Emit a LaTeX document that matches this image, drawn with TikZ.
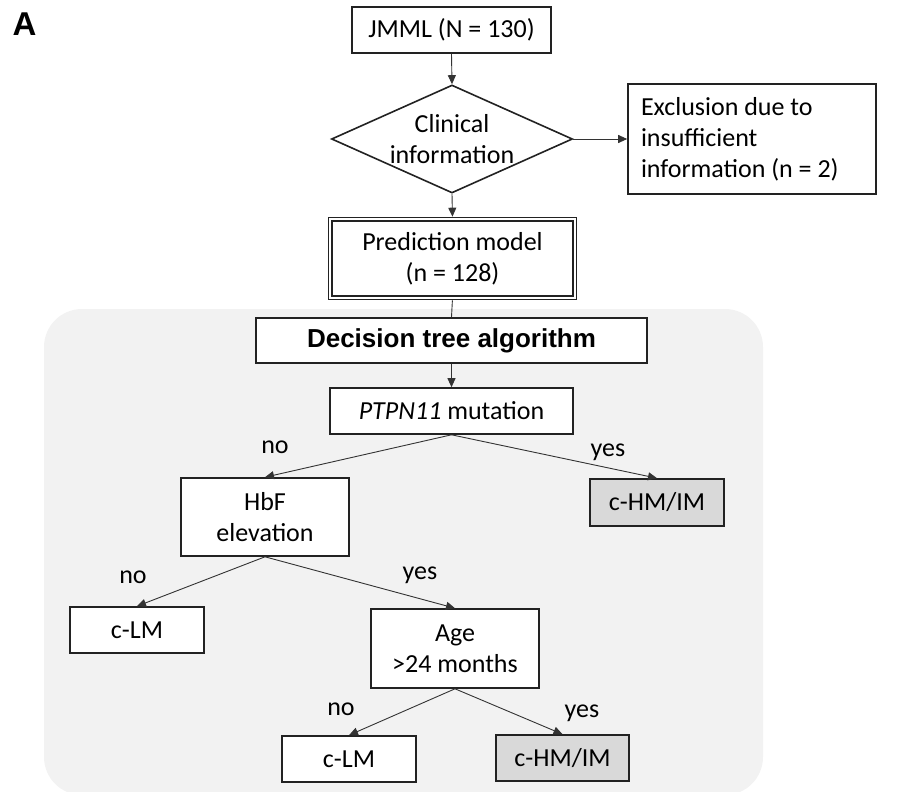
\documentclass[tikz,border=0pt]{standalone}
\usepackage{fontspec}
\setmainfont{Carlito}
\newfontfamily\arialfont{Liberation Sans}
\usetikzlibrary{shapes.geometric,arrows.meta}
\definecolor{bgpanel}{HTML}{F2F2F2}
\definecolor{outfill}{HTML}{D9D9D9}
\definecolor{edgecol}{HTML}{222222}
\definecolor{linecol}{HTML}{333333}
\tikzset{
  txt/.style={font=\fontsize{26}{31}\selectfont},
  box/.style={txt, draw=edgecol, line width=1.6pt, fill=white, rectangle, inner sep=0pt, align=center},
  outbox/.style={box, fill=outfill},
  conn/.style={draw=linecol, line width=0.9pt},
  arr/.style={conn, -{Triangle[length=9pt,width=8pt]}},
  lab/.style={txt, anchor=base, inner sep=0pt}
}
\begin{document}
\begin{tikzpicture}[x=1pt,y=-1pt]
\useasboundingbox (0,0) rectangle (906,792);
% panel
\fill[bgpanel, rounded corners=38pt] (44,309) rectangle (763,795);
% panel letter
\node[anchor=base, inner sep=0pt, font=\arialfont\bfseries\fontsize{33}{33}\selectfont] (lettera) at (24.5,36) {A};
% top flow
\node[box, minimum width=199pt, minimum height=46pt] (jmml) at (451.5,30) {JMML (N = 130)};
\node[draw=edgecol, line width=1.6pt, fill=white, diamond, aspect=2.23, minimum width=241pt, minimum height=108pt, inner sep=0pt,
      label={[txt, align=center, inner sep=0pt]center:Clinical\\information}] (clin) at (452,139) {};
\node[box, align=flush left, text width=222pt, inner xsep=13pt, minimum height=110pt] (excl) at (752,139)
  {Exclusion due to\\insufficient\\information (n = 2)};
\node[box, double=white, line width=1.2pt, double distance=2.2pt, minimum width=244.4pt, minimum height=78.4pt] (pred) at (452.5,258.5)
  {Prediction model\\(n = 128)};
% decision tree
\node[box, font=\arialfont\bfseries\fontsize{26}{30}\selectfont, minimum width=391pt, minimum height=45pt] (dec) at (451.5,340.5) {Decision tree algorithm};
\node[box, minimum width=243pt, minimum height=46pt] (ptpn) at (451.5,411) {\textit{PTPN11} mutation};
\node[box, minimum width=168pt, minimum height=78pt] (hbf) at (265,517) {HbF\\elevation};
\node[outbox, minimum width=134pt, minimum height=47pt] (hma) at (657,502.5) {c-HM/IM};
\node[box, minimum width=134pt, minimum height=46pt] (clma) at (137,630) {c-LM};
\node[box, minimum width=168pt, minimum height=79pt] (age) at (455,648.5) {Age\\>24 months};
\node[box, minimum width=134pt, minimum height=46pt] (clmb) at (349,759) {c-LM};
\node[outbox, minimum width=133pt, minimum height=46pt] (hmb) at (562.5,758) {c-HM/IM};
% connectors
\draw[arr] (jmml.south) -- (clin.north);
\draw[arr] (clin.east) -- (excl.west);
\draw[arr, shorten >=2pt] (clin.south) -- (pred.north);
\draw[conn, shorten <=2pt] (pred.south) -- (dec.north);
\draw[arr] (dec.south) -- (ptpn.north);
\draw[arr] (ptpn.south) -- (hbf.north);
\draw[arr] (ptpn.south) -- (hma.north);
\draw[arr] (hbf.south) -- (clma.north);
\draw[arr] (hbf.south) -- (age.north);
\draw[arr] (age.south) -- (clmb.north);
\draw[arr] (age.south) -- (hmb.north);
% branch labels
\node[lab] (noa) at (275,453) {no};
\node[lab] (yesa) at (608,456) {yes};
\node[lab] (nob) at (133,583) {no};
\node[lab] (yesb) at (420,579) {yes};
\node[lab] (noc) at (341,715) {no};
\node[lab] (yesc) at (582,717) {yes};
\end{tikzpicture}
\end{document}
